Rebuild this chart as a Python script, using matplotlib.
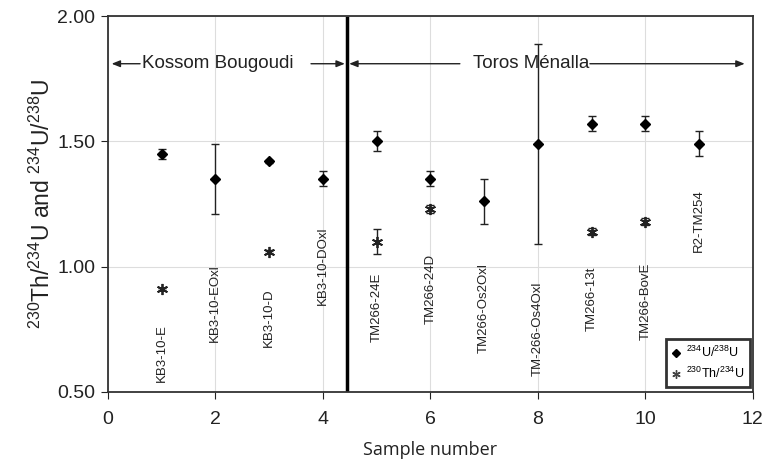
import matplotlib
matplotlib.use('Agg')
import matplotlib.pyplot as plt
from matplotlib.lines import Line2D

plt.rcParams['font.family'] = ['Liberation Sans', 'DejaVu Sans']
plt.rcParams['mathtext.fontset'] = 'custom'
plt.rcParams['mathtext.rm'] = 'Liberation Sans'
plt.rcParams['mathtext.it'] = 'Liberation Sans:italic'

# sample numbers and names
samples = [1, 2, 3, 4, 5, 6, 7, 8, 9, 10, 11]
names = ['KB3-10-E', 'KB3-10-EOxl', 'KB3-10-D', 'KB3-10-DOxl', 'TM266-24E',
         'TM266-24D', 'TM266-Os2Oxl', 'TM-266-Os4Oxl', 'TM266-13t',
         'TM266-BovE', 'R2-TM254']
name_top = [0.77, 1.01, 0.915, 1.16, 0.975, 1.05, 1.015, 0.94, 1.00, 1.015, 1.31]

# 234U/238U
u_ratio = [1.45, 1.35, 1.42, 1.35, 1.50, 1.35, 1.26, 1.49, 1.57, 1.57, 1.49]
u_err = [0.02, 0.14, 0.005, 0.03, 0.04, 0.03, 0.09, 0.40, 0.03, 0.03, 0.05]

# 230Th/234U
th_samples = [1, 3, 5, 6, 9, 10]
th_ratio = [0.91, 1.06, 1.10, 1.23, 1.14, 1.18]
th_err = [0.005, 0.005, 0.05, 0.015, 0.015, 0.015]

boundary = 4.45
ast = (6, 2, 0)

fig = plt.figure(figsize=(7.65, 4.61), dpi=100)
ax = fig.add_axes([0.141, 0.150, 0.843, 0.815])

ax.grid(True, color='#dddddd', lw=0.8, zorder=0)
ax.set_axisbelow(True)

ax.errorbar(samples, u_ratio, yerr=u_err, fmt='D', color='black', ms=5.5,
            capsize=3, elinewidth=1, capthick=1, ecolor='#222222', zorder=3)
ax.errorbar(th_samples, th_ratio, yerr=th_err, fmt='none', ecolor='#222222',
            capsize=3, elinewidth=1, capthick=1, zorder=3)
ax.plot(th_samples, th_ratio, ls='none', marker=ast, ms=8, mew=1.3,
        color='#222222', zorder=4)

for x, name, yt in zip(samples, names, name_top):
    ax.text(x, yt, name, rotation=90, ha='center', va='top', fontsize=9.5,
            color='#222222')

ax.axvline(boundary, ymin=0.005, ymax=0.995, color='black', lw=2.5, zorder=2)

# region arrows
ya = 1.81
arr = dict(arrowstyle='-|>,head_length=0.5,head_width=0.2', color='#222222', lw=1,
           shrinkA=0, shrinkB=0)
ax.annotate('', xy=(0.07, ya), xytext=(0.6, ya), arrowprops=arr)
ax.annotate('', xy=(4.41, ya), xytext=(3.78, ya), arrowprops=arr)
ax.annotate('', xy=(4.49, ya), xytext=(6.55, ya), arrowprops=arr)
ax.annotate('', xy=(11.85, ya), xytext=(8.97, ya), arrowprops=arr)
ax.text(2.04, ya, 'Kossom Bougoudi', ha='center', va='center', fontsize=13.5,
        color='#222222')
ax.text(7.87, ya, 'Toros Ménalla', ha='center', va='center', fontsize=13.5,
        color='#222222')

ax.set_xlim(0, 12)
ax.set_ylim(0.5, 2.0)
ax.set_xticks([0, 2, 4, 6, 8, 10, 12])
ax.set_yticks([0.5, 1.0, 1.5, 2.0])
ax.set_yticklabels(['0.50', '1.00', '1.50', '2.00'])
ax.tick_params(labelsize=14, length=5, direction='out', colors='#222222', pad=4)
ax.tick_params(axis='x', pad=9)
for s in ax.spines.values():
    s.set_color('#333333')
    s.set_linewidth(1.3)

ax.set_xlabel('Sample number', fontsize=13, color='#222222', labelpad=9,
              family=['Open Sans', 'DejaVu Sans'])
ax.set_ylabel(r'$^{230}$Th/$^{234}$U and $^{234}$U/$^{238}$U', fontsize=16.5,
              color='#222222', labelpad=2)

handles = [Line2D([], [], ls='none', marker='D', ms=4, color='black'),
           Line2D([], [], ls='none', marker=ast, ms=6, mew=1, color='#444444')]
labels = [r'$^{234}$U/$^{238}$U', r'$^{230}$Th/$^{234}$U']
leg = ax.legend(handles, labels, loc='lower right', fontsize=9, frameon=True,
                fancybox=False, handlelength=0.6, handletextpad=0.5,
                borderpad=0.45, labelspacing=0.5, borderaxespad=0,
                bbox_to_anchor=(0.995, 0.013))
leg.get_frame().set_edgecolor('black')
leg.get_frame().set_linewidth(2)

fig.savefig('out.png', dpi=100)
